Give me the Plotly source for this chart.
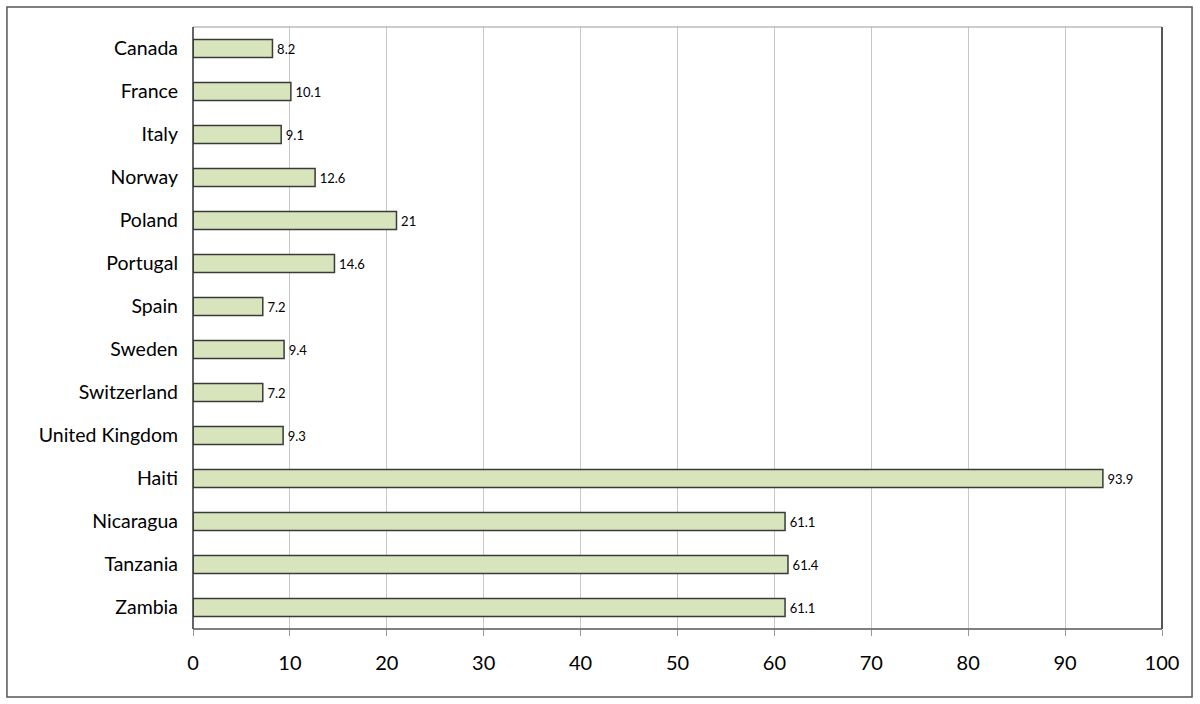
import plotly.graph_objects as go

countries = ["Canada", "France", "Italy", "Norway", "Poland", "Portugal", "Spain",
             "Sweden", "Switzerland", "United Kingdom", "Haiti", "Nicaragua",
             "Tanzania", "Zambia"]
values = [8.2, 10.1, 9.1, 12.6, 21, 14.6, 7.2, 9.4, 7.2, 9.3, 93.9, 61.1, 61.4, 61.1]
labels = ["8.2", "10.1", "9.1", "12.6", "21", "14.6", "7.2", "9.4", "7.2", "9.3",
          "93.9", "61.1", "61.4", "61.1"]
x_ticks = [0, 10, 20, 30, 40, 50, 60, 70, 80, 90, 100]

FONT = "Lato, 'Open Sans', sans-serif"

fig = go.Figure(go.Bar(
    x=values, y=countries, orientation="h",
    marker=dict(color="#d8e4bc", line=dict(color="#3a3a3a", width=1.5)),
    width=0.42,
    text=labels, texttemplate="\u2009%{text}", textposition="outside", cliponaxis=False,
    textfont=dict(size=13, color="#000", family=FONT),
))

fig.update_layout(
    width=1200, height=704,
    margin=dict(l=193, r=38, t=27, b=75),
    paper_bgcolor="white", plot_bgcolor="white",
    font=dict(family=FONT, color="#000"),
    showlegend=False,
    xaxis=dict(range=[0, 100], tickvals=x_ticks, showgrid=True, gridcolor="#c8c8c8",
               gridwidth=1, ticks="outside", ticklen=6, tickcolor="#999",
               showline=False, zeroline=False, tickfont=dict(size=20), ticklabelstandoff=10),
    yaxis=dict(autorange="reversed", showgrid=False, showline=False, zeroline=False,
               ticks="", tickfont=dict(size=19.5), ticklabelstandoff=14),
    shapes=[
        # outer border
        dict(type="rect", xref="paper", yref="paper", x0=-0.1920, x1=1.0310,
             y0=-0.1130, y1=1.0332, line=dict(color="#555", width=1.5)),
        # plot area border: top gray, right dark
        dict(type="line", xref="paper", yref="paper", x0=0, x1=1, y0=1, y1=1,
             line=dict(color="#999", width=1)),
        dict(type="line", xref="paper", yref="paper", x0=1, x1=1, y0=0, y1=1,
             line=dict(color="#555", width=2)),
        # left & bottom axis lines dark
        dict(type="line", xref="paper", yref="paper", x0=0, x1=0, y0=0, y1=1,
             line=dict(color="#333", width=1.5)),
        dict(type="line", xref="paper", yref="paper", x0=0, x1=1, y0=0, y1=0,
             line=dict(color="#555", width=1.5)),
    ],
)

fig.write_html("out.html", config={"displayModeBar": False},
               post_script="document.body.style.margin='0';")
